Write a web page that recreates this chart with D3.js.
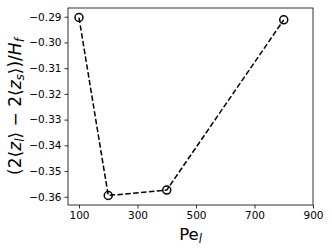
<!DOCTYPE html>
<html>
<head>
<meta charset="utf-8">
<script src="https://cdn.jsdelivr.net/npm/d3@7"></script>
<style>
  body { margin: 0; background: #fff; }
  svg { display: block; font-family: "DejaVu Sans", sans-serif; }
</style>
</head>
<body>
<div id="chart"></div>
<script>
// data
var peValues = [100, 200, 400, 800];
var heightDiff = [-0.2903, -0.3595, -0.3574, -0.2912];
var xTicks = [100, 300, 500, 700, 900];
var yTicks = [-0.29, -0.30, -0.31, -0.32, -0.33, -0.34, -0.35, -0.36];

var width = 332, height = 249,
    margins = {top: 8, right: 19, bottom: 44, left: 68};

var svg = d3.select('#chart').append('svg')
  .attr('width', width)
  .attr('height', height);

var x = d3.scaleLinear().domain([62.5, 900]).range([margins.left, width - margins.right]);
var y = d3.scaleLinear().domain([-0.3632, -0.2866]).range([height - margins.bottom, margins.top]);

var g = svg.append('g');

// axes
var xAxis = g.append('g')
  .attr('transform', 'translate(0,' + (height - margins.bottom) + ')')
  .call(d3.axisBottom(x).tickValues(xTicks).tickSize(3.5).tickPadding(3));
var yAxis = g.append('g')
  .attr('transform', 'translate(' + margins.left + ',0)')
  .call(d3.axisLeft(y).tickValues(yTicks).tickSize(3.5).tickPadding(3)
    .tickFormat(function(d) { return '\u2212' + Math.abs(d).toFixed(2); }));

[xAxis, yAxis].forEach(function(a) {
  a.select('.domain').remove();
  a.selectAll('text').attr('font-size', 10.5).attr('fill', '#000').attr('font-family', '"DejaVu Sans", sans-serif');
  a.selectAll('line').attr('stroke', '#000').attr('stroke-width', 0.8);
});

// frame
g.append('rect')
  .attr('x', margins.left)
  .attr('y', margins.top)
  .attr('width', width - margins.left - margins.right)
  .attr('height', height - margins.top - margins.bottom)
  .attr('fill', 'none')
  .attr('stroke', '#000')
  .attr('stroke-width', 0.8);

// line
var line = d3.line()
  .x(function(d, i) { return x(peValues[i]); })
  .y(function(d) { return y(d); });

g.append('path')
  .datum(heightDiff)
  .attr('d', line)
  .attr('fill', 'none')
  .attr('stroke', '#000')
  .attr('stroke-width', 1.5)
  .attr('stroke-dasharray', '5.5,2.4');

g.selectAll('circle')
  .data(heightDiff)
  .enter().append('circle')
  .attr('cx', function(d, i) { return x(peValues[i]); })
  .attr('cy', function(d) { return y(d); })
  .attr('r', 4)
  .attr('fill', 'none')
  .attr('stroke', '#000')
  .attr('stroke-width', 1.5);

// x label
var xl = svg.append('text')
  .attr('x', (margins.left + width - margins.right) / 2)
  .attr('y', 240)
  .attr('text-anchor', 'middle')
  .attr('font-size', 16.5);
xl.append('tspan').text('Pe');
xl.append('tspan').attr('font-style', 'italic').attr('font-size', 11.5).attr('dy', 3).text('l');

// y label
var yl = svg.append('text')
  .attr('transform', 'translate(21,' + ((margins.top + height - margins.bottom) / 2) + ') rotate(-90)')
  .attr('text-anchor', 'middle')
  .attr('font-size', 17);
yl.append('tspan').text('(2\u27E8');
yl.append('tspan').attr('font-style', 'italic').text('z');
yl.append('tspan').attr('font-style', 'italic').attr('font-size', 12).attr('dy', 3).text('l');
yl.append('tspan').attr('dy', -3).text('\u27E9 \u2212 2\u27E8');
yl.append('tspan').attr('font-style', 'italic').text('z');
yl.append('tspan').attr('font-style', 'italic').attr('font-size', 12).attr('dy', 3).text('s');
yl.append('tspan').attr('dy', -3).text('\u27E9)/');
yl.append('tspan').attr('font-style', 'italic').text('H');
yl.append('tspan').attr('font-style', 'italic').attr('font-size', 12).attr('dy', 3).text('f');
</script>
</body>
</html>
